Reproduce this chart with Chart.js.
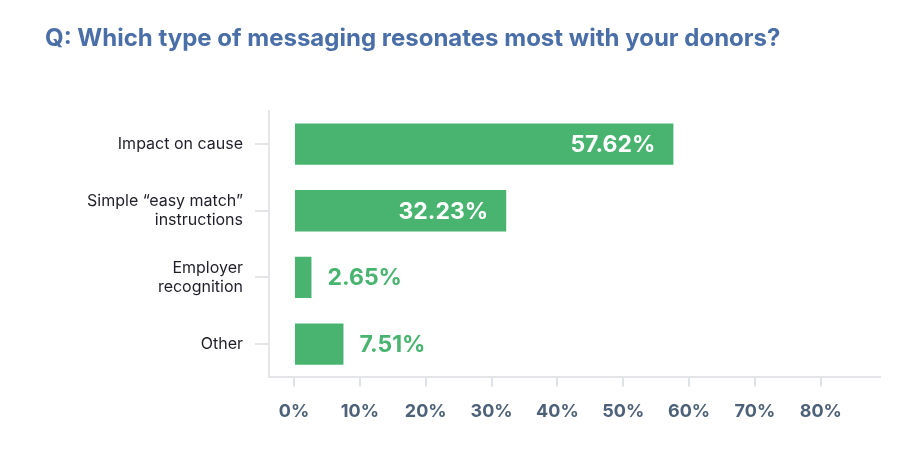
<!DOCTYPE html>
<html><head><meta charset="utf-8">
<script src="https://cdn.jsdelivr.net/npm/chart.js@4"></script>
<style>html,body{margin:0;background:#fff}#w{width:922px;height:458px}</style>
</head><body><div id="w"><canvas id="c"></canvas></div>
<script>
const categories = [["Impact on cause"], ["Simple \u201ceasy match\u201d", "instructions"], ["Employer", "recognition"], ["Other"]];
const values = [57.62, 32.23, 2.65, 7.51];
const tickValues = [0, 10, 20, 30, 40, 50, 60, 70, 80];
const GREEN = '#48b46f';
const labelPlugin = {
  id: 'vals',
  afterDatasetsDraw(chart) {
    const ctx = chart.ctx;
    const meta = chart.getDatasetMeta(0);
    ctx.save();
    ctx.font = 'bold 23px Inter, "Open Sans", sans-serif';
    ctx.textBaseline = 'middle';
    meta.data.forEach((bar, i) => {
      const t = values[i].toFixed(2) + '%';
      if (values[i] > 20) { ctx.fillStyle = '#fff'; ctx.textAlign = 'right'; ctx.fillText(t, bar.x - 18, bar.y + 1); }
      else { ctx.fillStyle = GREEN; ctx.textAlign = 'left'; ctx.fillText(t, bar.x + 16, bar.y + 1); }
    });
    ctx.restore();
  }
};
new Chart(document.getElementById('c'), {
  type: 'bar',
  data: { labels: categories, datasets: [{ data: values, backgroundColor: GREEN, barPercentage: 0.62, categoryPercentage: 1 }] },
  options: {
    indexAxis: 'y', responsive: true, maintainAspectRatio: false, animation: false,
    layout: { padding: { left: 45, right: 42, top: 12, bottom: 22 } },
    plugins: {
      legend: { display: false }, tooltip: { enabled: false },
      title: { display: true, text: 'Q: Which type of messaging resonates most with your donors?', align: 'start',
        color: '#4a6ea8', font: { family: 'Inter, "Open Sans", sans-serif', size: 24, weight: 'bold' }, padding: { top: 12, bottom: 58 } }
    },
    scales: {
      x: {
        min: -3.8, max: 89,
        afterBuildTicks(s) { s.ticks = tickValues.map(v => ({ value: v })); },
        grid: { drawOnChartArea: false, color: '#dfe2e6', lineWidth: 2, tickLength: 9 },
        border: { color: '#e3e5e8', width: 2 },
        ticks: { color: '#4d6178', padding: 14, font: { family: 'Inter, sans-serif', size: 18, weight: 'bold' }, callback: v => v + '%' }
      },
      y: {
        afterFit(s) { s.width = 224; },
        grid: { drawOnChartArea: false, offset: false, color: '#e3e5e8', lineWidth: 2, tickLength: 14 },
        border: { color: '#e3e5e8', width: 2 },
        ticks: { color: '#1f1f2a', padding: 12, font: { family: 'Inter, sans-serif', size: 16 } }
      }
    }
  },
  plugins: [labelPlugin]
});
</script></body></html>
